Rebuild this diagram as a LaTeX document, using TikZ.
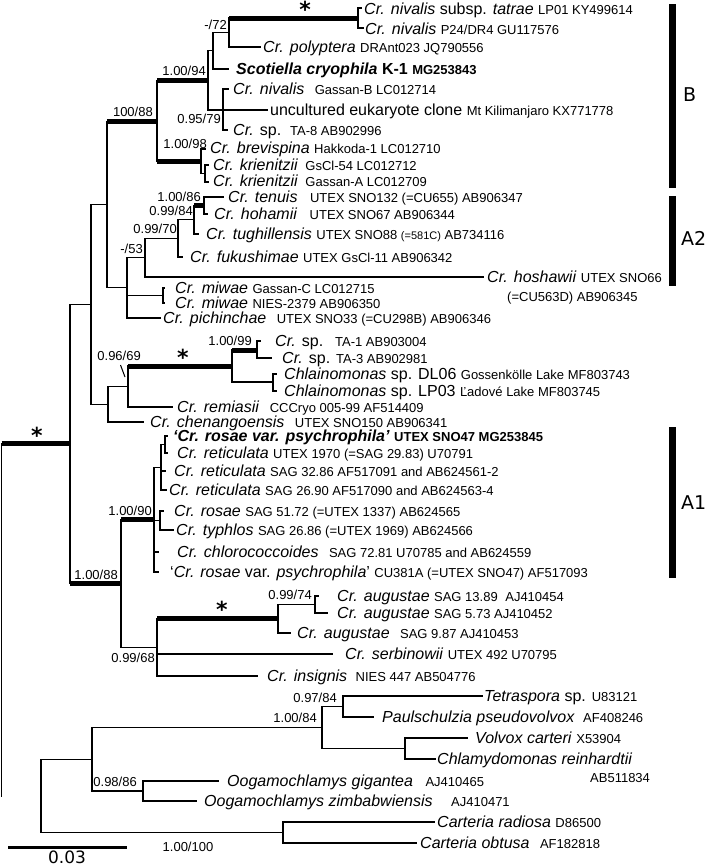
\documentclass[tikz,border=0pt]{standalone}
\usepackage{fontspec}
\setmainfont{Liberation Sans}
\newfontfamily\dvs{DejaVu Sans}
\newcommand\ac[1]{{\fontsize{13}{15}\selectfont #1}}
\newcommand\brv[3]{\draw[br] (#2 -| #1) -- (#3 -| #1);}
\newcommand\brh[2]{\draw[br] (#2 -| #1) -- (#2);}
\newcommand\brt[2]{\draw[tb] (#2 -| #1) -- (#2);}
\begin{document}
\begin{tikzpicture}[x=1pt,y=-1pt,
 br/.style={line width=1.2pt,line cap=rect},
 tb/.style={line width=5pt,line cap=butt},
 taxon/.style={anchor=base west,inner sep=0pt,font=\fontsize{16}{19}\selectfont,yshift=-5.6pt},
 bsv/.style={anchor=base east,inner sep=0pt,font=\fontsize{13}{15}\selectfont,yshift=-4.6pt},
 ast/.style={inner sep=0pt,font=\dvs\bfseries\fontsize{22}{22}\selectfont},
 grp/.style={anchor=west,inner sep=0pt,font=\dvs\fontsize{19}{22}\selectfont},
 gbar/.style={line width=7pt,line cap=butt}]
\useasboundingbox (0,0) rectangle (709,868);
% ---------- internal nodes ----------
\coordinate (root) at (1.5,443.95);
\coordinate (in) at (70,443.95);
\coordinate (R) at (91,304.4);
\coordinate (Q) at (107,204.55);
\coordinate (n100) at (157,121.3);
\coordinate (n94) at (208,80.4);
\coordinate (n213) at (213,50.75);
\coordinate (n72) at (229,32.5);
\coordinate (nniv) at (358,18);
\coordinate (n79) at (223,110);
\coordinate (n98) at (201,161.5);
\coordinate (nkri) at (205,173.5);
\coordinate (P) at (127,287.8);
\coordinate (n53) at (145,257.6);
\coordinate (n70) at (178,238.25);
\coordinate (n84) at (194,219.5);
\coordinate (n86) at (204,205.5);
\coordinate (nmiw) at (163,295.5);
\coordinate (S) at (108,404.25);
\coordinate (T) at (128,386.5);
\coordinate (U) at (232,366);
\coordinate (n99) at (257,350);
\coordinate (nchl) at (273,382);
\coordinate (L88) at (121,583.5);
\coordinate (N90) at (154,519.6);
\coordinate (Na) at (161,467.25);
\coordinate (Nr1) at (165,444.5);
\coordinate (Nb) at (160,520.5);
\coordinate (N68) at (157,647.4);
\coordinate (naug) at (278,618.75);
\coordinate (n74) at (315,604.5);
\coordinate (O) at (41,795.9);
\coordinate (N92) at (92,759.25);
\coordinate (nvol) at (322,727.5);
\coordinate (n97) at (343,706.5);
\coordinate (nvc) at (405,748.5);
\coordinate (nooga) at (143,791);
\coordinate (ncar) at (283,832.5);
% ---------- branch ends ----------
\coordinate (e1) at (361,8);
\coordinate (e2) at (363,28);
\coordinate (e3) at (260,47);
\coordinate (e4) at (228,69);
\coordinate (e5) at (228,89);
\coordinate (e6) at (267,110);
\coordinate (e7) at (227,130);
\coordinate (e8) at (205,149);
\coordinate (e9) at (208,165);
\coordinate (e10) at (208,182);
\coordinate (e11) at (223,197);
\coordinate (e12) at (207,214);
\coordinate (e13) at (198,234);
\coordinate (e14) at (182,257);
\coordinate (e15) at (483,277);
\coordinate (e16) at (164,288);
\coordinate (e17) at (164,303);
\coordinate (e18) at (160,318);
\coordinate (e19) at (260,341);
\coordinate (e20) at (271,358);
\coordinate (e21) at (276,374);
\coordinate (e22) at (276,391);
\coordinate (e23) at (172,407);
\coordinate (e24) at (143,422);
\coordinate (e25) at (167,436);
\coordinate (e26) at (167,453);
\coordinate (e27) at (165,471);
\coordinate (e28) at (166,490);
\coordinate (e29) at (163,511);
\coordinate (e30) at (173,530);
\coordinate (e31) at (158,552);
\coordinate (e32) at (158,572);
\coordinate (e33) at (318,596);
\coordinate (e34) at (327,613);
\coordinate (e35) at (290,633);
\coordinate (e36) at (332,654);
\coordinate (e37) at (257,676);
\coordinate (e38) at (482,696);
\coordinate (e39) at (373,717);
\coordinate (e40) at (467,738);
\coordinate (e41) at (435,759);
\coordinate (e42) at (218,781);
\coordinate (e43) at (196,801);
\coordinate (e44) at (434,822);
\coordinate (e45) at (416,843);
% ---------- verticals ----------
\brv{root}{in}{O}
\brv{in}{R}{L88}
\brv{R}{Q}{S}
\brv{Q}{n100}{P}
\brv{n100}{n94}{n98}
\brv{n94}{n213}{n79}
\brv{n213}{n72}{e4}
\brv{n72}{nniv}{e3}
\brv{nniv}{e1}{e2}
\brv{n79}{e5}{e7}
\brv{n98}{e8}{nkri}
\brv{nkri}{e9}{e10}
\brv{P}{n53}{e18}
\brv{n53}{n70}{e15}
\brv{n70}{n84}{e14}
\brv{n84}{n86}{e13}
\brv{n86}{e11}{e12}
\brv{nmiw}{e16}{e17}
\brv{S}{T}{e24}
\brv{T}{U}{e23}
\brv{U}{n99}{nchl}
\brv{n99}{e19}{e20}
\brv{nchl}{e21}{e22}
\brv{L88}{N90}{N68}
\brv{N90}{Na}{e32}
\brv{Na}{Nr1}{e28}
\brv{Nr1}{e25}{e26}
\brv{Nb}{e29}{e30}
\brv{N68}{naug}{e37}
\brv{naug}{n74}{e35}
\brv{n74}{e33}{e34}
\brv{O}{N92}{ncar}
\brv{N92}{nvol}{nooga}
\brv{nvol}{n97}{nvc}
\brv{n97}{e38}{e39}
\brv{nvc}{e40}{e41}
\brv{nooga}{e42}{e43}
\brv{ncar}{e44}{e45}
% ---------- horizontals ----------
\brt{root}{in}
\brh{in}{R}
\brt{in}{L88}
\brh{R}{Q}
\brh{R}{S}
\brt{Q}{n100}
\brh{Q}{P}
\brt{n100}{n94}
\brt{n100}{n98}
\brh{n94}{n213}
\brh{n94}{n79}
\brh{n213}{n72}
\brh{n213}{e4}
\brt{n72}{nniv}
\brh{n72}{e3}
\brh{nniv}{e1}
\brh{nniv}{e2}
\brh{n79}{e5}
\brh{n79}{e6}
\brh{n79}{e7}
\brh{n98}{e8}
\brh{n98}{nkri}
\brh{nkri}{e9}
\brh{nkri}{e10}
\brh{P}{n53}
\brh{P}{nmiw}
\brh{P}{e18}
\brh{n53}{n70}
\brh{n53}{e15}
\brh{n70}{n84}
\brh{n70}{e14}
\brt{n84}{n86}
\brh{n84}{e13}
\brh{n86}{e11}
\brh{n86}{e12}
\brh{nmiw}{e16}
\brh{nmiw}{e17}
\brh{S}{T}
\brh{S}{e24}
\brt{T}{U}
\brh{T}{e23}
\brt{U}{n99}
\brh{U}{nchl}
\brh{n99}{e19}
\brh{n99}{e20}
\brh{nchl}{e21}
\brh{nchl}{e22}
\brt{L88}{N90}
\brh{L88}{N68}
\brh{N90}{Na}
\brh{N90}{Nb}
\brh{N90}{e31}
\brh{N90}{e32}
\brh{Na}{Nr1}
\brh{Na}{e27}
\brh{Na}{e28}
\brh{Nr1}{e25}
\brh{Nr1}{e26}
\brh{Nb}{e29}
\brh{Nb}{e30}
\brt{N68}{naug}
\brh{N68}{e36}
\brh{N68}{e37}
\brh{naug}{n74}
\brh{naug}{e35}
\brh{n74}{e33}
\brh{n74}{e34}
\brh{O}{N92}
\brh{O}{ncar}
\brh{N92}{nvol}
\brh{N92}{nooga}
\brh{nvol}{n97}
\brh{nvol}{nvc}
\brh{n97}{e38}
\brh{n97}{e39}
\brh{nvc}{e40}
\brh{nvc}{e41}
\brh{nooga}{e42}
\brh{nooga}{e43}
\brh{ncar}{e44}
\brh{ncar}{e45}
% ---------- taxa ----------
\node[taxon] (t1) at (364,9) {\textit{Cr. nivalis} subsp. \textit{tatrae} \ac{LP01 KY499614}};
\node[taxon] (t2) at (365,29) {\textit{Cr. nivalis} \ac{P24/DR4 GU117576}};
\node[taxon] (t3) at (263,47) {\textit{Cr. polyptera} \ac{DRAnt023 JQ790556}};
\node[taxon] (t4) at (236,69) {\bfseries\textit{Scotiella cryophila} K-1 \ac{MG253843}};
\node[taxon] (t5) at (233,89) {\textit{Cr. nivalis}\hspace{6pt} \ac{Gassan-B LC012714}};
\node[taxon] (t6) at (270,110) {uncultured eukaryote clone \ac{Mt Kilimanjaro KX771778}};
\node[taxon] (t7) at (233,130) {\textit{Cr.} sp.\hspace{3pt} \ac{TA-8 AB902996}};
\node[taxon] (t8) at (210,148) {\textit{Cr. brevispina} \ac{Hakkoda-1 LC012710}};
\node[taxon] (t9) at (213,165) {\textit{Cr. krienitzii}\hspace{3pt} \ac{GsCl-54 LC012712}};
\node[taxon] (t10) at (213,181) {\textit{Cr. krienitzii}\hspace{3pt} \ac{Gassan-A LC012709}};
\node[taxon] (t11) at (228,197) {\textit{Cr. tenuis}\hspace{8pt} \ac{UTEX SNO132 (=CU655) AB906347}};
\node[taxon] (t12) at (214,214) {\textit{Cr. hohamii}\hspace{8pt} \ac{UTEX SNO67 AB906344}};
\node[taxon] (t13) at (206,234) {\textit{Cr. tughillensis} \ac{UTEX SNO88 {\fontsize{11}{13}\selectfont(=581C)} AB734116}};
\node[taxon] (t14) at (190,257) {\textit{Cr. fukushimae} \ac{UTEX GsCl-11 AB906342}};
\node[taxon] (t15) at (487,277) {\textit{Cr. hoshawii} \ac{UTEX SNO66}};
\node[taxon] (t15b) at (507,296) {\ac{(=CU563D) AB906345}};
\node[taxon] (t16) at (175,288) {\textit{Cr. miwae} \ac{Gassan-C LC012715}};
\node[taxon] (t17) at (175,303) {\textit{Cr. miwae} \ac{NIES-2379 AB906350}};
\node[taxon] (t18) at (163,318) {\textit{Cr. pichinchae}\hspace{6pt} \ac{UTEX SNO33 (=CU298B) AB906346}};
\node[taxon] (t19) at (275,341) {\textit{Cr.} sp.\hspace{6pt} \ac{TA-1 AB903004}};
\node[taxon] (t20) at (282,358) {\textit{Cr.} sp. \ac{TA-3 AB902981}};
\node[taxon] (t21) at (284,374) {\textit{Chlainomonas} sp. DL06 \ac{Gossenkölle Lake MF803743}};
\node[taxon] (t22) at (284,391) {\textit{Chlainomonas} sp. LP03 \ac{Ľadové Lake MF803745}};
\node[taxon] (t23) at (177,407) {\textit{Cr. remiasii}\hspace{6pt} \ac{CCCryo 005-99 AF514409}};
\node[taxon] (t24) at (150,422) {\textit{Cr. chenangoensis}\hspace{6pt} \ac{UTEX SNO150 AB906341}};
\node[taxon] (t25) at (173,436) {\bfseries\textit{‘Cr. rosae var. psychrophila’} \ac{UTEX SNO47 MG253845}};
\node[taxon] (t26) at (177,453) {\textit{Cr. reticulata} \ac{UTEX 1970 (=SAG 29.83) U70791}};
\node[taxon] (t27) at (174,471) {\textit{Cr. reticulata} \ac{SAG 32.86 AF517091 and AB624561-2}};
\node[taxon] (t28) at (169,490) {\textit{Cr. reticulata} \ac{SAG 26.90 AF517090 and AB624563-4}};
\node[taxon] (t29) at (174,511) {\textit{Cr. rosae} \ac{SAG 51.72 (=UTEX 1337) AB624565}};
\node[taxon] (t30) at (176,530) {\textit{Cr. typhlos} \ac{SAG 26.86 (=UTEX 1969) AB624566}};
\node[taxon] (t31) at (177,552) {\textit{Cr. chlorococcoides}\hspace{6pt} \ac{SAG 72.81 U70785 and AB624559}};
\node[taxon] (t32) at (170,572) {‘\textit{Cr. rosae} var. \textit{psychrophila}’ \ac{CU381A (=UTEX SNO47) AF517093}};
\node[taxon] (t33) at (337,596) {\textit{Cr. augustae} \ac{SAG 13.89\hspace{4pt} AJ410454}};
\node[taxon] (t34) at (337,613) {\textit{Cr. augustae} \ac{SAG 5.73 AJ410452}};
\node[taxon] (t35) at (297,633) {\textit{Cr. augustae}\hspace{6pt} \ac{SAG 9.87 AJ410453}};
\node[taxon] (t36) at (345,654) {\textit{Cr. serbinowii} \ac{UTEX 492 U70795}};
\node[taxon] (t37) at (267,676) {\textit{Cr. insignis}\hspace{4pt} \ac{NIES 447 AB504776}};
\node[taxon] (t38) at (484,696) {\textit{Tetraspora} sp. \ac{U83121}};
\node[taxon] (t39) at (382,717) {\textit{Paulschulzia pseudovolvox}\hspace{4pt} \ac{AF408246}};
\node[taxon] (t40) at (475,738) {\textit{Volvox carteri} \ac{X53904}};
\node[taxon] (t41) at (437,759) {\textit{Chlamydomonas reinhardtii}};
\node[taxon] (t41b) at (590,777) {\ac{AB511834}};
\node[taxon] (t42) at (227,781) {\textit{Oogamochlamys gigantea}\hspace{8pt} \ac{AJ410465}};
\node[taxon] (t43) at (204,801) {\textit{Oogamochlamys zimbabwiensis}\hspace{14pt} \ac{AJ410471}};
\node[taxon] (t44) at (437,822) {\textit{Carteria radiosa} \ac{D86500}};
\node[taxon] (t45) at (420,843) {\textit{Carteria obtusa}\hspace{6pt} \ac{AF182818}};
% ---------- support values ----------
\node[bsv] (s72) at (227,25) {-/72};
\node[bsv] (s94) at (206,71) {1.00/94};
\node[bsv] (s79) at (221,119) {0.95/79};
\node[bsv] (s88a) at (153,112) {100/88};
\node[bsv] (s98) at (207,144) {1.00/98};
\node[bsv] (s86) at (201,197) {1.00/86};
\node[bsv] (s84) at (193,211) {0.99/84};
\node[bsv] (s70) at (177,229) {0.99/70};
\node[bsv] (s53) at (143,249) {-/53};
\node[bsv] (s99) at (252,341) {1.00/99};
\node[bsv] (s69) at (141,356) {0.96/69};
\node[bsv] (s90) at (152,511) {1.00/90};
\node[bsv] (s88b) at (118,575) {1.00/88};
\node[bsv] (s68) at (155,658) {0.99/68};
\node[bsv] (s74) at (312,595) {0.99/74};
\node[bsv] (s97) at (337,698) {0.97/84};
\node[bsv] (s84b) at (317,718) {1.00/84};
\node[bsv] (s86b) at (137,782) {0.98/86};
\node[bsv,anchor=base] (s100) at (188,847) {1.00/100};
\coordinate (ld1) at (120.5,365);
\coordinate (ld2) at (125,377);
\draw[line width=1pt] (ld1) -- (ld2);
% ---------- asterisks ----------
\node[ast] (a1) at (305,9) {*};
\node[ast] (a2) at (183,357) {*};
\node[ast] (a3) at (37,435) {*};
\node[ast] (a4) at (222,609) {*};
% ---------- group bars ----------
\coordinate (gB1) at (672,4);
\coordinate (gB2) at (672,188);
\coordinate (gA21) at (672,196);
\coordinate (gA22) at (672,286);
\coordinate (gA11) at (672,427);
\coordinate (gA12) at (672,578);
\draw[gbar] (gB1) -- (gB2);
\draw[gbar] (gA21) -- (gA22);
\draw[gbar] (gA11) -- (gA12);
\node[grp] (lB) at (683,95) {B};
\node[grp] (lA2) at (681,238) {A2};
\node[grp] (lA1) at (681,503) {A1};
% ---------- scale bar ----------
\coordinate (sb1) at (8,847);
\coordinate (sb2) at (127,847);
\draw[line width=3pt] (sb1) -- (sb2);
\node[inner sep=0pt,font=\dvs\fontsize{17}{20}\selectfont] (sbl) at (67,857) {0.03};
\end{tikzpicture}
\end{document}
